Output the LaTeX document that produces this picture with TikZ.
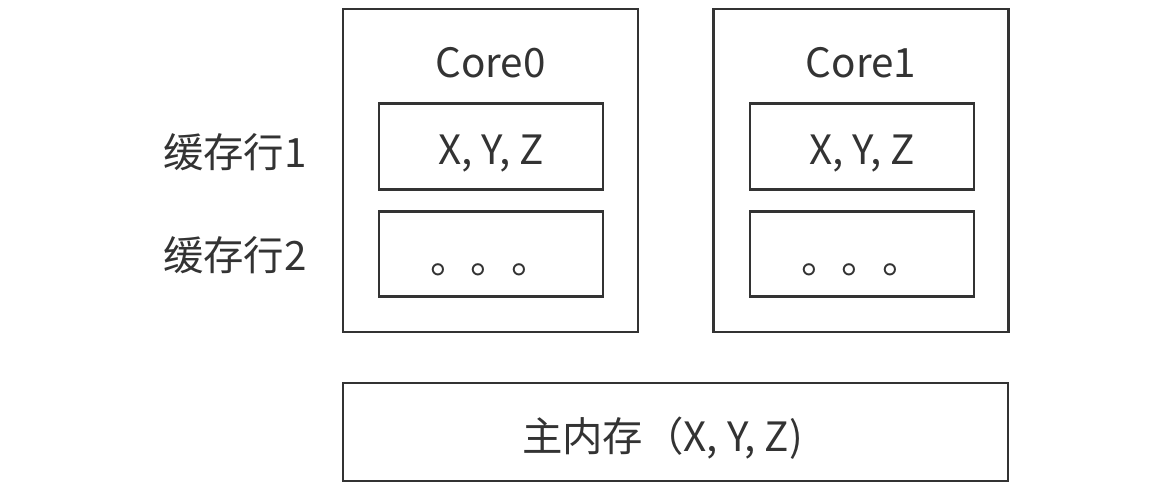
\documentclass[tikz,border=0pt]{standalone}
\usepackage{fontspec}
\setmainfont{Noto Sans CJK SC}
\usepackage{xcolor}
\usepackage{tikz}
\usetikzlibrary{positioning}
\definecolor{lineGrey}{HTML}{333333}
\begin{document}
\begin{tikzpicture}[x=0.02cm,y=-0.02cm]
        \tikzstyle{every node}=[font=\fontsize{23}{28}\selectfont,text=lineGrey]
        \tikzset{core/.style = {shape=rectangle,draw=lineGrey,line width=1.6pt,minimum width=5.9cm,minimum height=6.46cm}}
        \tikzset{line/.style = {shape=rectangle,draw=lineGrey,line width=1.6pt,minimum width=4.48cm,minimum height=1.71cm,text height=23.7pt,text depth=3.5pt}}
        \tikzset{dots/.style = {line,text height=22.5pt,text depth=0pt}}
        \tikzset{memory/.style = {shape=rectangle,draw=lineGrey,line width=1.6pt,minimum width=13.3cm,minimum height=1.96cm}}
        \useasboundingbox (0,0) rectangle (1174,489);
        % cores
        \node[core] (c0) at (490.5,170.5) {};
        \node[core] (c1) at (861,170.5) {};
        \node (t0) at (490.5,63) {Core0};
        \node (t1) at (861,63) {Core1};
        % cache lines
        \node[line] (l01) at (491,146.5) {X, Y, Z};
        \node[dots] (l02) at (491,254) {。。。};
        \node[line] (l11) at (862,146.5) {X, Y, Z};
        \node[dots] (l12) at (862,254) {。。。};
        \node (n1) at (235,152) {缓存行1};
        \node (n2) at (235,255) {缓存行2};
        % main memory
        \node[memory,label={[xshift=-7.4pt,yshift=-3.4pt]center:主内存（X, Y, Z)}] (mem) at (675.5,432) {};
      \end{tikzpicture}
\end{document}
